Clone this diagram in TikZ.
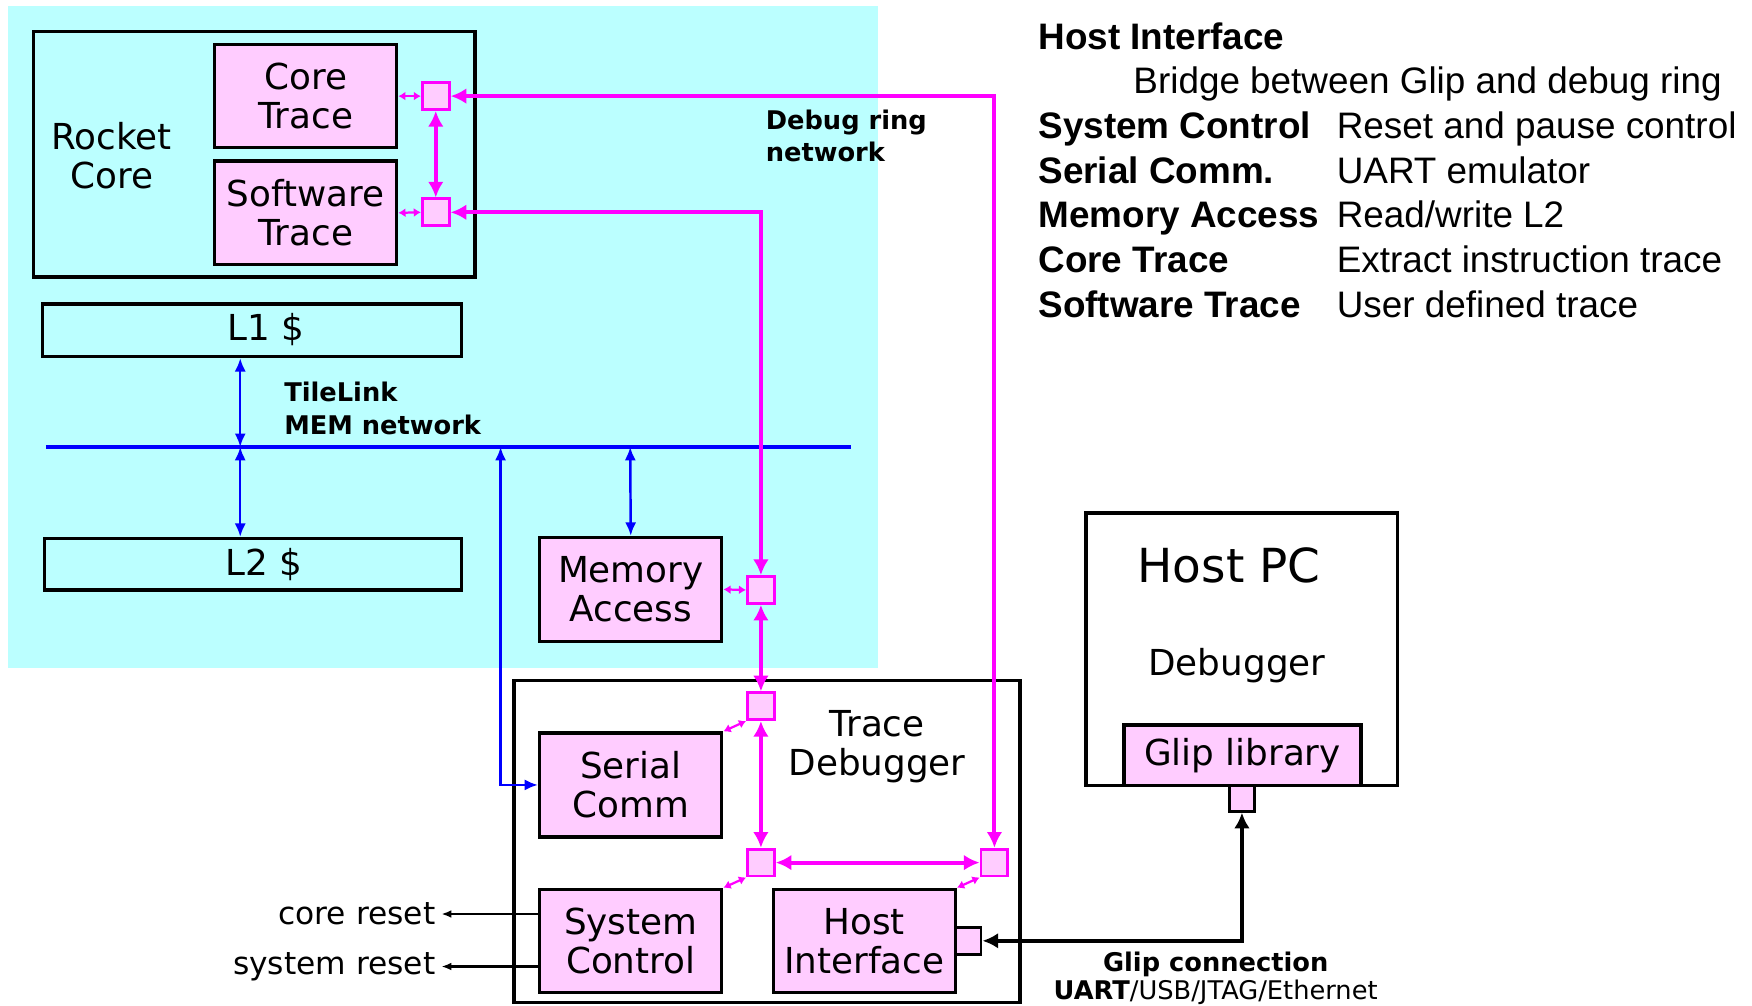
\documentclass[tikz,border=0pt]{standalone}
\usepackage{fontspec}
\setmainfont{DejaVu Sans}
\newfontfamily\legendfont{Liberation Sans}
\usetikzlibrary{arrows.meta}
\definecolor{cyanbg}{HTML}{BBFFFF}
\definecolor{pinkf}{HTML}{FFCCFF}
\definecolor{ringc}{HTML}{FF00FF}
\definecolor{busc}{HTML}{0000FF}
\tikzset{
  box/.style={draw=black, line width=1.5pt, inner sep=0pt, align=center,
    font=\fontsize{16}{17.5}\selectfont},
  pbox/.style={box, fill=pinkf},
  txt/.style={inner sep=0pt, align=center, font=\fontsize{16}{17.5}\selectfont},
  boldlbl/.style={inner sep=0pt, align=left, font=\fontsize{11.5}{14.5}\selectfont\bfseries},
  port/.style={draw=ringc, line width=1.3pt, fill=pinkf, minimum width=12pt,
    minimum height=12pt, inner sep=0pt},
  bport/.style={draw=black, line width=1.3pt, fill=pinkf, inner sep=0pt},
  ring/.style={draw=ringc, line width=1.8pt,
    {Latex[length=7pt,width=7pt]}-{Latex[length=7pt,width=7pt]}},
  tinyarr/.style={draw=ringc, line width=1pt,
    {Latex[length=3.2pt,width=4pt]}-{Latex[length=3.2pt,width=4pt]}},
  busline/.style={draw=busc, line width=2pt},
  memarr/.style={draw=busc, line width=1.1pt,
    {Latex[length=6pt,width=5pt]}-{Latex[length=6pt,width=5pt]}},
  blk/.style={draw=black, line width=1.6pt,
    {Latex[length=7pt,width=7pt]}-{Latex[length=7pt,width=7pt]}},
  rst/.style={draw=black, line width=1pt, -{Latex[length=4.5pt,width=3.5pt]}, shorten >=2.5pt},
  rsttxt/.style={inner sep=0pt, font=\fontsize{14}{16}\selectfont},
  lg/.style={inner sep=0pt, anchor=base west, font=\legendfont\fontsize{16.5}{20}\selectfont},
  lgb/.style={lg, font=\legendfont\fontsize{16.5}{20}\selectfont\bfseries},
}
% #1 style, #2 name, #3 x1, #4 y1, #5 x2, #6 y2, #7 text
\newcommand\cornerbox[7]{%
  \pgfmathsetmacro\bw{(#5-#3)*0.5}%
  \pgfmathsetmacro\bh{(#6-#4)*0.5}%
  \node[#1, minimum width=\bw pt, minimum height=\bh pt] (#2) at ({(#3+#5)/2},{(#4+#6)/2}) {#7};}
\begin{document}
\begin{tikzpicture}[x=0.5pt,y=-0.5pt]
\useasboundingbox (0,0) rectangle (1568,900);
\fill[cyanbg] (7,5) rectangle (786,598);

% Rocket core
\cornerbox{box}{rocket}{30}{28}{425}{248}{}
\node[txt] (rockettxt) at (100,139) {Rocket\\Core};
\cornerbox{pbox}{coretr}{192}{40}{355}{132}{Core\\Trace}
\cornerbox{pbox}{swtr}{192}{144}{355}{237}{Software\\Trace}
\node[port] (sq1) at (390,86) {};
\node[port] (sq2) at (390,190) {};

% caches and bus
\cornerbox{box}{l1}{38}{272}{413}{319}{}
\node[txt] (l1txt) at (238,295) {L1 \$};
\cornerbox{box}{l2}{40}{482}{413}{528}{}
\node[txt] (l2txt) at (236,505) {L2 \$};
\coordinate (busL) at (41,400);
\coordinate (busR) at (762,400);
\coordinate (b1) at (215,400);
\coordinate (b2) at (448,400);
\coordinate (b3) at (564,400);
\draw[busline] (busL) -- (busR);
\node[boldlbl, anchor=west] (tl) at (254,365.5) {TileLink\\MEM network};
\node[boldlbl, anchor=west] (drn) at (685,121.5) {Debug ring\\network};

\cornerbox{pbox}{mem}{483}{481}{646}{574}{Memory\\Access}
\node[port] (sq3) at (681,528) {};

% trace debugger
\cornerbox{box}{tracedbg}{460}{609}{913}{897}{}
\node[txt] (tdtxt) at (785,668) {Trace\\Debugger};
\node[port] (sq4) at (681,632) {};
\cornerbox{pbox}{serial}{483}{656}{646}{749}{Serial\\Comm}
\node[port] (sq5) at (681,772) {};
\node[port] (sq6) at (890,772) {};
\cornerbox{pbox}{sysctl}{483}{796}{646}{888}{System\\Control}
\cornerbox{pbox}{hostif}{692}{796}{855}{888}{Host\\Interface}
\cornerbox{bport}{hport}{855}{830}{878}{854}{}

% host pc
\cornerbox{box}{hostpc}{972}{459}{1251}{703}{}
\node[txt, font=\fontsize{21}{24}\selectfont] (hpctxt) at (1100,506) {Host PC};
\node[txt] (dbgtxt) at (1107,596) {Debugger};
\cornerbox{pbox}{glip}{1006}{649}{1218}{703}{Glip library}
\cornerbox{bport}{gport}{1100}{703}{1123}{726}{}
\node[inner sep=0pt, align=center, font=\fontsize{11.5}{12.5}\selectfont] (glipc) at (1088,875.5)
  {\textbf{Glip connection}\\\textbf{UART}/USB/JTAG/Ethernet};

% resets
\node[rsttxt, anchor=east] (crst) at (390,818) {core reset};
\node[rsttxt, anchor=east] (srst) at (390,865) {system reset};
\draw[rst] (crst.east -| sysctl.west) -- (crst.east);
\draw[rst] (srst.east -| sysctl.west) -- (srst.east);

% ring connections
\draw[tinyarr] (coretr.east) -- (sq1.west);
\draw[tinyarr] (swtr.east) -- (sq2.west);
\draw[ring] (sq1.south) -- (sq2.north);
\draw[ring] (sq1.east) -| (sq6.north);
\draw[ring] (sq2.east) -| (sq3.north);
\draw[tinyarr] (mem.east) -- (sq3.west);
\draw[ring] (sq3.south) -- (sq4.north);
\draw[ring] (sq4.south) -- (sq5.north);
\draw[ring] (sq5.east) -- (sq6.west);
\draw[tinyarr] (sq4.south west) -- (serial.north east);
\draw[tinyarr] (sq5.south west) -- (sysctl.north east);
\draw[tinyarr] (sq6.south west) -- (hostif.north east);

% memory connections
\draw[memarr] (b1) -- (b1 |- l1.south);
\draw[memarr] (b1) -- (b1 |- l2.north);
\draw[memarr] (b3) -- (mem.north);
\draw[memarr] (b2) |- (serial.west);

% glip connection
\draw[blk] (gport.south) |- (hport.east);

% legend
\node[lgb] (lg1) at (929,44) {Host Interface};
\node[lg] (lg1d) at (1014,84) {Bridge between Glip and debug ring};
\node[lgb] (lg2) at (929,124) {System Control};
\node[lg] (lg2d) at (1196,124) {Reset and pause control};
\node[lgb] (lg3) at (929,164) {Serial Comm.};
\node[lg] (lg3d) at (1196,164) {UART emulator};
\node[lgb] (lg4) at (929,204) {Memory Access};
\node[lg] (lg4d) at (1196,204) {Read/write L2};
\node[lgb] (lg5) at (929,244) {Core Trace};
\node[lg] (lg5d) at (1196,244) {Extract instruction trace};
\node[lgb] (lg6) at (929,284) {Software Trace};
\node[lg] (lg6d) at (1196,284) {User defined trace};
\end{tikzpicture}
\end{document}
